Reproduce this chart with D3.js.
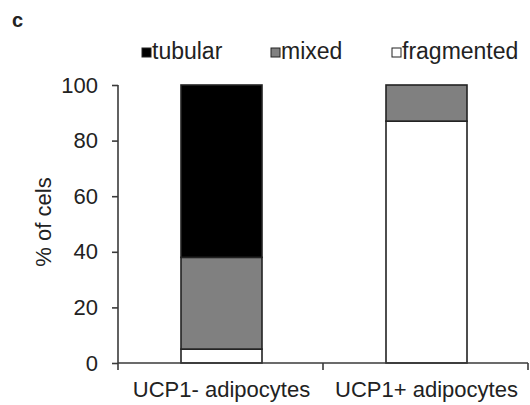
<!DOCTYPE html>
<html>
<head>
<meta charset="utf-8">
<script src="https://cdn.jsdelivr.net/npm/d3@7"></script>
<style>
  body { margin: 0; background: #fff; }
  text { font-family: "Liberation Sans", Arial, sans-serif; fill: #222; }
</style>
</head>
<body>
<div id="chart"></div>
<script>
// Data (percent of cells per category).
var categories = ["UCP1- adipocytes", "UCP1+ adipocytes"];
var seriesNames = ["fragmented", "mixed", "tubular"];
var fragmented = [5, 87];
var mixed = [33, 13];
var tubular = [62, 0];
var yTicks = [0, 20, 40, 60, 80, 100];
var legendOrder = ["tubular", "mixed", "fragmented"];

var width = 530,
    height = 405,
    margin = { top: 85, right: 2, bottom: 42, left: 118 },
    innerW = width - margin.left - margin.right,
    innerH = height - margin.top - margin.bottom,
    axisColor = "#3a3a3a",
    fontSize = "22px";

var fills = { tubular: "#000000", mixed: "#808080", fragmented: "#ffffff" };

var rows = categories.map(function (c, i) {
  return { category: c, fragmented: fragmented[i], mixed: mixed[i], tubular: tubular[i] };
});

var stack = d3.stack().keys(seriesNames);
var layers = stack(rows);

var x = d3.scaleBand()
    .domain(categories)
    .range([0, innerW])
    .paddingInner(0)
    .paddingOuter(0);

var barW = 81;

var y = d3.scaleLinear()
    .domain([0, 100])
    .range([innerH, 0]);

var svg = d3.select("#chart").append("svg")
    .attr("width", width)
    .attr("height", height);

// Panel letter
svg.append("text")
    .attr("x", 12)
    .attr("y", 27)
    .style("font-size", "20px")
    .style("font-weight", "bold")
    .text("c");

var g = svg.append("g")
    .attr("transform", "translate(" + margin.left + "," + margin.top + ")");

// Bars
var layerG = g.selectAll(".layer")
  .data(layers)
  .enter().append("g")
    .attr("class", "layer")
    .attr("fill", function (d) { return fills[d.key]; });

layerG.selectAll("rect")
  .data(function (d) { return d.filter(function (s) { return s[1] - s[0] > 0; }); })
  .enter().append("rect")
    .attr("x", function (d) { return x(d.data.category) + (x.bandwidth() - barW) / 2 + 1; })
    .attr("width", barW)
    .attr("y", function (d) { return y(d[1]); })
    .attr("height", function (d) { return y(d[0]) - y(d[1]); })
    .attr("stroke", "#222")
    .attr("stroke-width", 1.6);

// Y axis
var yAxis = g.append("g")
    .call(d3.axisLeft(y).tickValues(yTicks).tickSize(6).tickPadding(14));
yAxis.select(".domain").attr("stroke", axisColor).attr("stroke-width", 1.6)
    .attr("d", "M0," + y(100) + "V" + y(0));
yAxis.selectAll(".tick line").attr("stroke", axisColor).attr("stroke-width", 1.6);
yAxis.selectAll(".tick text")
    .style("font-size", fontSize)
    .style("font-family", "'Liberation Sans', Arial, sans-serif")
    .attr("fill", "#222");

// X axis with ticks at band boundaries
var xAxisG = g.append("g").attr("transform", "translate(0," + innerH + ")");
xAxisG.append("line")
    .attr("x1", 0).attr("x2", innerW)
    .attr("stroke", axisColor).attr("stroke-width", 1.6);
var bounds = [0].concat(categories.map(function (c) { return x(c) + x.bandwidth(); }));
xAxisG.selectAll(".xtick")
  .data(bounds)
  .enter().append("line")
    .attr("class", "xtick")
    .attr("x1", function (d) { return d; })
    .attr("x2", function (d) { return d; })
    .attr("y1", 0).attr("y2", 7)
    .attr("stroke", axisColor).attr("stroke-width", 1.6);
xAxisG.selectAll(".xlabel")
  .data(categories)
  .enter().append("text")
    .attr("class", "xlabel")
    .attr("x", function (d) { return x(d) + x.bandwidth() / 2 + 1; })
    .attr("y", 34)
    .attr("text-anchor", "middle")
    .style("font-size", fontSize)
    .text(function (d) { return d; });

// Y title
svg.append("text")
    .attr("transform", "translate(51," + (margin.top + y(50) - 2) + ") rotate(-90)")
    .attr("text-anchor", "middle")
    .style("font-size", fontSize)
    .text("% of cels");

// Legend
var legendX = { tubular: 142, mixed: 271, fragmented: 392 };
var legend = svg.selectAll(".legend")
  .data(legendOrder)
  .enter().append("g")
    .attr("class", "legend")
    .attr("transform", function (d) { return "translate(" + legendX[d] + ",47)"; });
legend.append("rect")
    .attr("width", 9).attr("height", 9)
    .attr("y", 1)
    .attr("fill", function (d) { return fills[d]; })
    .attr("stroke", "#222")
    .attr("stroke-width", 1);
legend.append("text")
    .attr("x", 10)
    .attr("y", 12)
    .style("font-size", "23px")
    .text(function (d) { return d; });
</script>
</body>
</html>
